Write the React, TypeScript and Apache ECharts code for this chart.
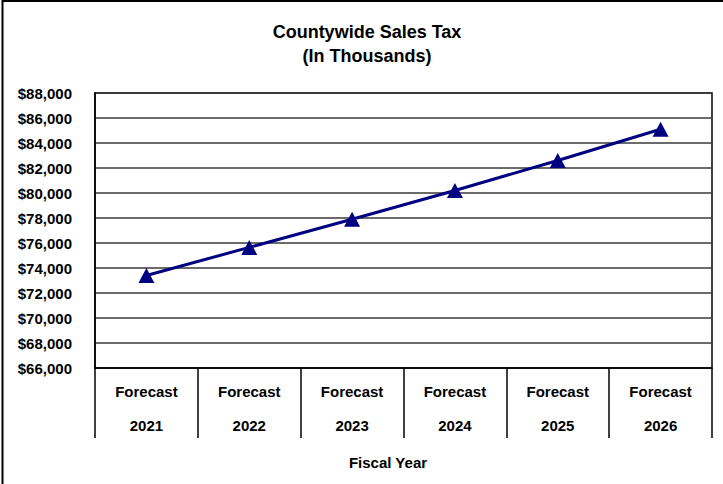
import React, { useEffect, useRef } from "react";
import * as echarts from "echarts";

const fiscalYears = ["2021", "2022", "2023", "2024", "2025", "2026"];
const categoryPrefix = "Forecast";
const salesTax = [73400, 75650, 77900, 80200, 82600, 85100];
const yMin = 66000;
const yMax = 88000;
const yStep = 2000;
const titleLines = ["Countywide Sales Tax", "(In Thousands)"];
const xAxisTitle = "Fiscal Year";

const FONT = "'Liberation Sans', Arial, sans-serif";

export default function App() {
  const ref = useRef<HTMLDivElement>(null);
  useEffect(() => {
    document.body.style.margin = "0";
    if (!ref.current) return;
    const chart = echarts.init(ref.current, null, { renderer: "svg" });
    chart.setOption({
      animation: false,
      backgroundColor: "#fff",
      grid: {
        left: 95,
        right: 11,
        top: 93,
        bottom: 116,
        show: true,
        borderColor: "#000",
        borderWidth: 1.5,
        containLabel: false,
      },
      xAxis: {
        type: "category",
        data: fiscalYears,
        boundaryGap: true,
        axisLine: { show: true, lineStyle: { color: "#000", width: 1.5 } },
        axisTick: {
          show: true,
          interval: 0,
          length: 70,
          lineStyle: { color: "#000", width: 1.5 },
        },
        axisLabel: {
          interval: 0,
          margin: 6,
          lineHeight: 34,
          fontSize: 15,
          fontWeight: "bold",
          fontFamily: FONT,
          color: "#000",
          formatter: (v: string) => categoryPrefix + "\n" + v,
        },
        splitLine: { show: false },
      },
      yAxis: {
        type: "value",
        min: yMin,
        max: yMax,
        interval: yStep,
        axisLine: { show: true, lineStyle: { color: "#000", width: 1.5 } },
        axisTick: { show: false },
        axisLabel: {
          margin: 23,
          fontSize: 15,
          fontWeight: "bold",
          fontFamily: FONT,
          color: "#000",
          formatter: (v: number) => "$" + v.toLocaleString("en-US"),
        },
        splitLine: { show: true, lineStyle: { color: "#3a3a3a", width: 1.5 } },
      },
      series: [
        {
          type: "line",
          data: salesTax,
          symbol: "triangle",
          symbolSize: [16, 15],
          showSymbol: true,
          lineStyle: { color: "#000080", width: 3 },
          itemStyle: { color: "#000080" },
        },
      ],
      graphic: [
        {
          type: "rect",
          shape: { x: 2.5, y: 1, width: 730, height: 500 },
          style: { fill: "none", stroke: "#000", lineWidth: 2 },
          silent: true,
        },
        {
          type: "text",
          x: 367,
          y: 32,
          style: {
            text: titleLines[0],
            font: `bold 18px ${FONT}`,
            fill: "#000",
            textAlign: "center",
            textVerticalAlign: "middle",
          },
        },
        {
          type: "text",
          x: 367,
          y: 56,
          style: {
            text: titleLines[1],
            font: `bold 18px ${FONT}`,
            fill: "#000",
            textAlign: "center",
            textVerticalAlign: "middle",
          },
        },
        {
          type: "text",
          x: 388,
          y: 462,
          style: {
            text: xAxisTitle,
            font: `bold 15px ${FONT}`,
            fill: "#000",
            textAlign: "center",
            textVerticalAlign: "middle",
          },
        },
      ],
    });
    return () => chart.dispose();
  }, []);
  return <div ref={ref} style={{ width: 723, height: 484 }} />;
}
